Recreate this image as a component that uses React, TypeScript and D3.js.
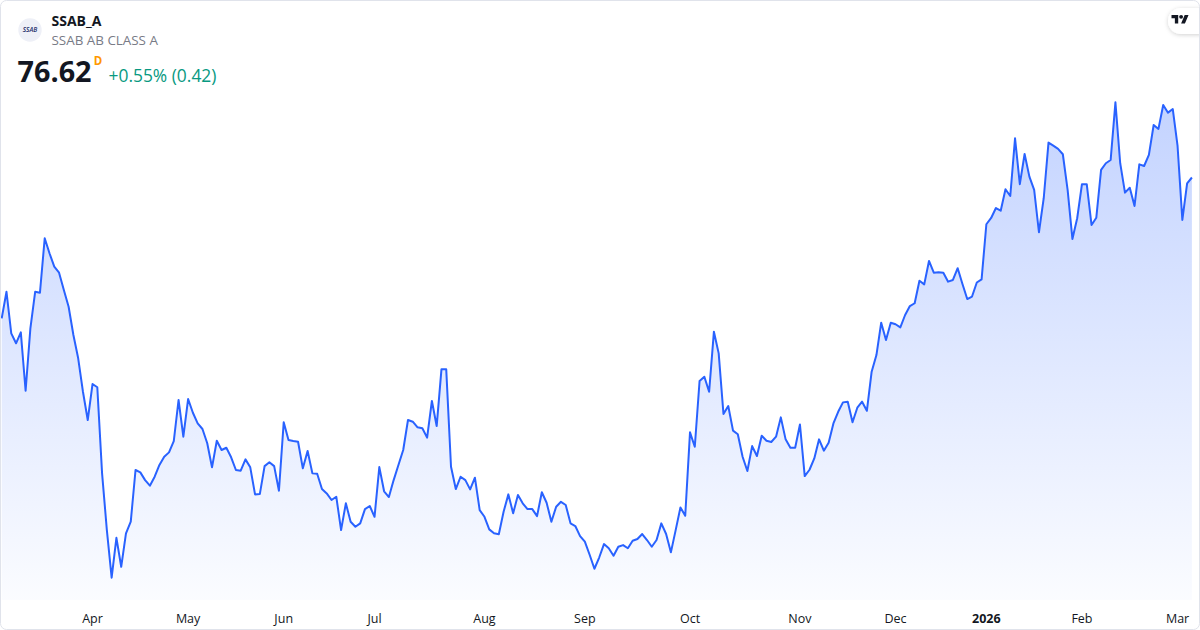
import React from "react";
import * as d3 from "d3";

// ---- data ----
const symbol = "SSAB_A";
const companyName = "SSAB AB CLASS A";
const logoText = "SSAB";
const lastPrice = "76.62";
const intervalLabel = "D";
const changeText = "+0.55% (0.42)";

const closes: number[] = [
  66.56, 68.46, 65.49, 64.78, 65.56, 61.39, 65.85, 68.46, 68.39, 72.28,
  71.21, 70.25, 69.82, 68.59, 67.39, 65.37, 63.71, 61.32, 59.30, 61.87,
  61.64, 55.49, 51.44, 48.04, 50.89, 48.82, 51.21, 52.04, 55.73, 55.56,
  55.01, 54.61, 55.25, 56.09, 56.68, 56.99, 57.80, 60.73, 58.11, 60.80,
  59.82, 59.06, 58.66, 57.64, 55.92, 57.82, 57.16, 57.32, 56.64, 55.73,
  55.68, 56.49, 55.92, 53.99, 54.01, 56.01, 56.28, 56.01, 54.25, 59.14,
  57.87, 57.80, 57.75, 55.85, 57.09, 55.49, 55.46, 54.37, 54.06, 53.59,
  53.82, 51.44, 53.35, 52.04, 51.68, 51.92, 52.94, 53.16, 52.39, 55.94,
  54.21, 53.80, 55.01, 56.09, 57.16, 59.30, 59.18, 58.78, 58.71, 58.04,
  60.66, 58.87, 62.92, 62.92, 55.96, 54.37, 55.25, 55.01, 54.35, 55.18,
  52.87, 52.39, 51.49, 51.21, 51.14, 52.75, 53.99, 52.64, 53.94, 53.35,
  52.94, 52.94, 52.44, 54.14, 53.39, 52.04, 53.11, 53.46, 53.23, 51.92,
  51.73, 51.01, 50.61, 49.68, 48.68, 49.48, 50.44, 50.14, 49.61, 50.25,
  50.37, 50.14, 50.68, 50.80, 51.16, 50.73, 50.25, 50.73, 51.92, 51.16,
  49.85, 51.44, 53.06, 52.46, 58.42, 57.39, 62.09, 62.39, 61.32, 65.61,
  64.06, 59.73, 60.30, 58.54, 58.28, 56.68, 55.66, 57.44, 56.73, 58.18,
  57.82, 57.73, 58.11, 59.49, 57.92, 57.32, 57.32, 58.98, 55.30, 55.75,
  56.56, 57.92, 57.11, 57.68, 59.06, 59.89, 60.56, 60.61, 59.14, 60.18,
  60.61, 59.96, 62.75, 63.94, 66.25, 65.01, 66.25, 66.14, 65.92, 66.80,
  67.44, 67.64, 69.25, 68.99, 70.66, 69.82, 69.85, 69.82, 69.18, 69.30,
  70.14, 69.01, 67.94, 68.12, 69.12, 69.35, 73.28, 73.73, 74.44, 74.25,
  75.78, 75.30, 79.42, 76.14, 78.30, 76.68, 75.73, 72.71, 75.14, 79.11,
  78.89, 78.66, 78.28, 75.73, 72.23, 73.71, 76.14, 76.14, 73.23, 73.75,
  77.16, 77.64, 77.87, 81.99, 77.64, 75.54, 75.89, 74.59, 77.56, 77.44,
  78.23, 80.37, 80.09, 81.80, 81.25, 81.51, 78.87, 73.59, 76.20, 76.62,
];

const monthLabels = ["Apr", "May", "Jun", "Jul", "Aug", "Sep", "Oct", "Nov", "Dec", "2026", "Feb", "Mar"];
const monthStartIndex = [19, 39, 59, 78, 101, 122, 144, 167, 187, 206, 226, 246];
const boldLabels = ["2026"];

// ---- layout ----
const W = 1200;
const H = 630;
const FONT = "'Open Sans', 'Noto Sans', sans-serif";

export default function App() {
  const x = d3.scaleLinear().domain([0, closes.length - 1]).range([1.7, 1191.9]);
  const ext = d3.extent(closes) as [number, number];
  const y = d3.scaleLinear().domain(ext).range([577.7, 102.3]);
  const bottom = 600;

  const line = d3
    .line<number>()
    .x((_, i) => x(i))
    .y((d) => y(d));
  const area = d3
    .area<number>()
    .x((_, i) => x(i))
    .y0(bottom)
    .y1((d) => y(d));

  return (
    <div style={{ position: "absolute", left: 0, top: 0 }}>
      <svg width={W} height={H} viewBox={`0 0 ${W} ${H}`} style={{ display: "block" }}>
        <defs>
          <linearGradient id="fillGrad" gradientUnits="userSpaceOnUse" x1="0" y1="100" x2="0" y2={bottom}>
            <stop offset="0" stopColor="#2962ff" stopOpacity={0.28} />
            <stop offset="1" stopColor="#2962ff" stopOpacity={0.02} />
          </linearGradient>
          <filter id="pillShadow" x="-50%" y="-50%" width="200%" height="200%">
            <feDropShadow dx="0" dy="1" stdDeviation="2" floodColor="#000" floodOpacity="0.18" />
          </filter>
          <clipPath id="cardClip">
            <rect x={0.5} y={0.5} width={W - 1} height={H - 1} rx={6} />
          </clipPath>
        </defs>
        <rect x={0} y={0} width={W} height={H} fill="#ffffff" />
        <g clipPath="url(#cardClip)">
          <path d={area(closes) || ""} fill="url(#fillGrad)" />
          <path d={line(closes) || ""} fill="none" stroke="#2962ff" strokeWidth={2} strokeLinejoin="round" />

          {monthLabels.map((lab, k) => (
            <text
              key={lab}
              x={x(monthStartIndex[k])}
              y={622.5}
              textAnchor="middle"
              fontFamily={FONT}
              fontSize={12.5}
              fontWeight={boldLabels.includes(lab) ? 700 : 400}
              fill="#131722"
            >
              {lab}
            </text>
          ))}

          {/* header */}
          <circle cx={30} cy={30} r={11.7} fill="#eef0f7" />
          <text x={30} y={32.3} textAnchor="middle" fontFamily={FONT} fontSize={6.5} fontStyle="italic" fontWeight={600} fill="#1f2f6b">
            {logoText}
          </text>
          <text x={51.5} y={26} fontFamily={FONT} fontSize={14} fontWeight={700} fill="#131722">
            {symbol}
          </text>
          <text x={51.5} y={45} fontFamily={FONT} fontSize={13.4} fill="#787b86">
            {companyName}
          </text>
          <text x={17.5} y={82} fontFamily={FONT} fontSize={28.8} fontWeight={700} fill="#131722">
            {lastPrice}
          </text>
          <text x={93.8} y={65} fontFamily={FONT} fontSize={11.5} fontWeight={700} fill="#ff9800">
            {intervalLabel}
          </text>
          <text x={108.5} y={81.5} fontFamily={FONT} fontSize={17.4} fill="#089981">
            {changeText}
          </text>

          {/* logo pill */}
          <rect x={1168} y={8} width={44} height={26} rx={13} fill="#ffffff" filter="url(#pillShadow)" />
          <g transform="translate(1171.5,13) scale(0.48)" fill="#131722">
            <path d="M14 22H7V11H0V4h14v18zM28 22h-8l7.5-18h8L28 22z" />
            <circle cx={20} cy={8} r={4} />
          </g>
        </g>
        <rect x={0.5} y={0.5} width={W - 1} height={H - 1} rx={6} fill="none" stroke="#e0e3eb" strokeWidth={1} />
      </svg>
    </div>
  );
}
